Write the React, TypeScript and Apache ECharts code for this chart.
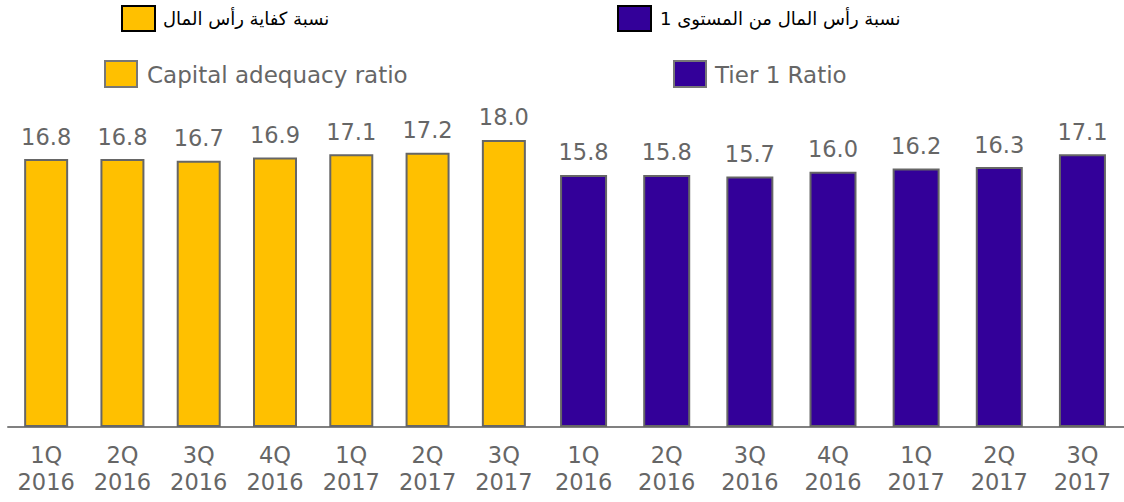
import React, { useEffect, useRef } from "react";
import * as echarts from "echarts";

const categories = ["1Q\n2016", "2Q\n2016", "3Q\n2016", "4Q\n2016", "1Q\n2017", "2Q\n2017", "3Q\n2017"];
const capitalAdequacy = [16.8, 16.8, 16.7, 16.9, 17.1, 17.2, 18.0];
const tier1 = [15.8, 15.8, 15.7, 16.0, 16.2, 16.3, 17.1];
const legendArabic = ["نسبة كفاية رأس المال", "نسبة رأس المال من المستوى 1"];
const legendEnglish = ["Capital adequacy ratio", "Tier 1 Ratio"];
const colors = ["#FFC000", "#330099"];

const FONT = "'DejaVu Sans', Verdana, sans-serif";

export default function App() {
  const ref = useRef<HTMLDivElement>(null);
  useEffect(() => {
    if (!ref.current) return;
    const chart = echarts.init(ref.current, undefined, { renderer: "svg" });
    const xAxisBase = {
      type: "category" as const,
      data: categories,
      axisTick: { show: false },
      axisLine: { show: true, lineStyle: { color: "#808080", width: 2 } },
      axisLabel: { color: "#666", fontSize: 22.5, fontFamily: FONT, lineHeight: 27, margin: 14, interval: 0 },
    };
    const yAxisBase = { type: "value" as const, min: 0, max: 20, show: false, splitLine: { show: false } };
    const labelBase = {
      show: true,
      position: "top" as const,
      distance: 11,
      color: "#666",
      fontSize: 22.5,
      fontFamily: FONT,
      formatter: (p: any) => Number(p.value).toFixed(1),
    };
    chart.setOption({
      animation: false,
      grid: [
        { left: 8, width: 534, top: 108, bottom: 75 },
        { left: 542, right: -3, top: 108, bottom: 75 },
      ],
      xAxis: [
        { ...xAxisBase, gridIndex: 0 },
        { ...xAxisBase, gridIndex: 1 },
      ],
      yAxis: [
        { ...yAxisBase, gridIndex: 0 },
        { ...yAxisBase, gridIndex: 1 },
      ],
      series: [
        {
          type: "bar",
          name: legendEnglish[0],
          xAxisIndex: 0,
          yAxisIndex: 0,
          data: capitalAdequacy,
          barWidth: 44,
          itemStyle: { color: colors[0], borderColor: "#666", borderWidth: 2 },
          label: labelBase,
        },
        {
          type: "bar",
          name: legendEnglish[1],
          xAxisIndex: 1,
          yAxisIndex: 1,
          data: tier1,
          barWidth: 47,
          itemStyle: { color: colors[1], borderColor: "#666", borderWidth: 2 },
          label: labelBase,
        },
      ],
      graphic: [
        { type: "rect", shape: { x: 122, y: 6, width: 33, height: 25 }, style: { fill: colors[0], stroke: "#000", lineWidth: 2 } },
        { type: "text", x: 163, y: 18, style: { text: legendArabic[0], fill: "#000", fontSize: 18, fontFamily: FONT, textAlign: "left", textVerticalAlign: "middle" } },
        { type: "rect", shape: { x: 618, y: 6, width: 33, height: 25 }, style: { fill: colors[1], stroke: "#000", lineWidth: 2 } },
        { type: "text", x: 660, y: 18, style: { text: legendArabic[1], fill: "#000", fontSize: 18, fontFamily: FONT, textAlign: "left", textVerticalAlign: "middle" } },
        { type: "rect", shape: { x: 105, y: 61, width: 32, height: 26 }, style: { fill: colors[0], stroke: "#777", lineWidth: 2 } },
        { type: "text", x: 147, y: 75, style: { text: legendEnglish[0], fill: "#666", fontSize: 23, fontFamily: FONT, textAlign: "left", textVerticalAlign: "middle" } },
        { type: "rect", shape: { x: 674, y: 61, width: 32, height: 26 }, style: { fill: colors[1], stroke: "#777", lineWidth: 2 } },
        { type: "text", x: 715, y: 75, style: { text: legendEnglish[1], fill: "#666", fontSize: 23, fontFamily: FONT, textAlign: "left", textVerticalAlign: "middle" } },
      ],
    });
    return () => chart.dispose();
  }, []);
  return <div ref={ref} style={{ width: 1124, height: 502, position: "absolute", left: 0, top: 0 }} />;
}
